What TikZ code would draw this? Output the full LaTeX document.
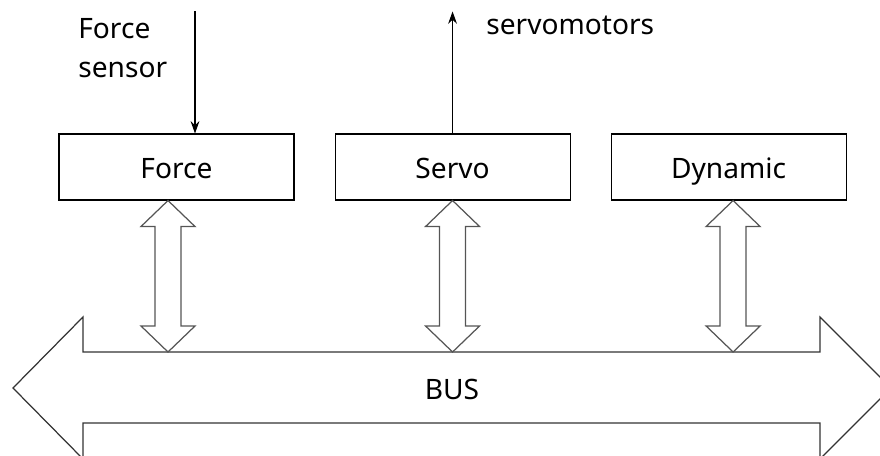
\documentclass[tikz,border=0pt]{standalone}
\usepackage{fontspec}
\setmainfont{Noto Sans}
\usepackage{tikz}
\usetikzlibrary{positioning,calc,arrows.meta}
\definecolor{LineGray}{RGB}{85,85,85}

% fat double arrow from a top point down to a bottom point
\newcommand{\fatlink}[2]{%
  \draw[fatarrow] (#1) -- ++(-0.54,-0.52) -- ++(0.28,0)
    -- ($(#2)+(-0.26,0.52)$) -- ++(-0.28,0) -- (#2)
    -- ++(0.54,0.52) -- ++(-0.28,0)
    -- ($(#1)+(0.26,-0.52)$) -- ++(0.28,0) -- cycle;
}

\begin{document}
\begin{tikzpicture}[
    font=\fontsize{16}{22}\selectfont,
    % boxes of the three modules
    modbox/.style={
        draw=black,
        line width=0.6pt,
        minimum width=4.7cm,
        minimum height=1.32cm,
        text height=14pt,
        text depth=1.4pt,
        inner sep=0pt
    },
    % thin signal arrows
    sigarrow/.style={
        draw=black,
        line width=0.6pt,
        -{Stealth[length=7pt,width=5pt]}
    },
    % hollow arrows to the bus
    fatarrow/.style={
        draw=LineGray,
        line width=0.7pt,
        line join=miter
    },
    busshape/.style={
        draw=black!80,
        line width=0.7pt,
        line join=miter
    }
]
    \clip (0,0) rectangle (17.6,9.12);

    % --- MODULES ---
    \node[modbox] (force) at (3.53,5.78) {Force};
    \node[modbox, right=0.8cm of force] (servo) {Servo};
    \node[modbox, right=0.8cm of servo] (dynamic) {Dynamic};

    % --- BUS ---
    \node[text height=14pt, text depth=1.4pt, inner sep=0pt] (bus) at (9.04,1.36) {BUS};
    \coordinate (bustop) at (9.04,2.08);
    \draw[busshape] (0.26,1.36) -- (1.66,2.78) -- (1.66,2.08)
        -- (16.4,2.08) -- (16.4,2.78) -- (17.82,1.36)
        -- (16.4,-0.06) -- (16.4,0.66) -- (1.66,0.66)
        -- (1.66,-0.06) -- cycle;

    % --- LINKS TO BUS ---
    \coordinate (fa) at ($(force.south)+(-0.17,0)$);
    \coordinate (fb) at (fa |- bustop);
    \coordinate (sa) at (servo.south);
    \coordinate (sb) at (sa |- bustop);
    \coordinate (da) at ($(dynamic.south)+(0.09,0)$);
    \coordinate (db) at (da |- bustop);
    \fatlink{fa}{fb}
    \fatlink{sa}{sb}
    \fatlink{da}{db}

    % --- SENSOR IN, MOTORS OUT ---
    \coordinate (fin) at ($(force.north)+(0.37,0)$);
    \coordinate (fsrc) at ($(fin)+(0,2.44)$);
    \node[anchor=north west, align=left, inner sep=0pt] (sensor) at (1.56,8.76) {Force\\sensor};
    \draw[sigarrow] (fsrc) -- (fin);

    \coordinate (sout) at ($(servo.north)+(0,2.44)$);
    \node[anchor=west, inner sep=0pt] (motors) at (9.72,8.62) {servomotors};
    \draw[sigarrow] (servo.north) -- (sout);

\end{tikzpicture}
\end{document}
